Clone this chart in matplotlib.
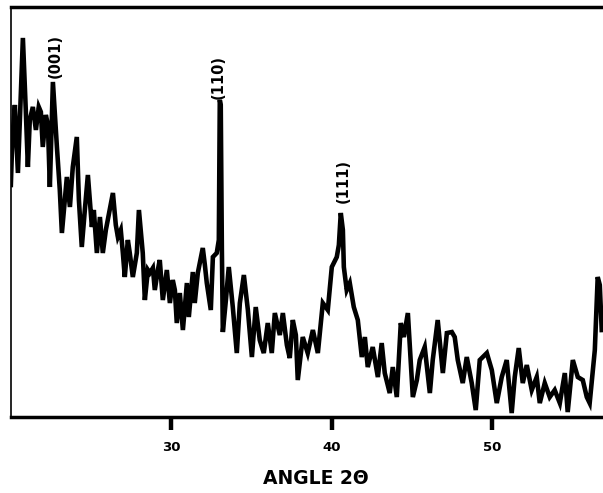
import matplotlib.pyplot as plt

# XRD pattern, values (intensity in arbitrary units)
two_theta = [
    20.00, 20.06, 20.12, 20.25, 20.44, 20.56, 20.75, 20.93, 21.06, 21.18, 21.37,
    21.56, 21.74, 21.87, 21.99, 22.18, 22.31, 22.43, 22.62, 22.87, 23.05,
    23.18, 23.36, 23.49, 23.68, 23.86, 24.11, 24.24, 24.42, 24.61, 24.80,
    25.05, 25.17, 25.36, 25.55, 25.73, 25.92, 26.04, 26.36, 26.54, 26.67,
    26.85, 26.98, 27.10, 27.29, 27.41, 27.60, 27.85, 27.98, 28.22, 28.35,
    28.54, 28.66, 28.85, 28.97, 29.16, 29.28, 29.47, 29.72, 29.91, 30.09,
    30.22, 30.34, 30.53, 30.72, 30.97, 31.09, 31.34, 31.46, 31.65, 31.96,
    32.09, 32.21, 32.46, 32.59, 32.83, 32.96, 33.02, 33.08, 33.15, 33.21,
    33.40, 33.58, 33.83, 34.08, 34.27, 34.52, 34.77, 35.02, 35.26, 35.51,
    35.76, 36.01, 36.26, 36.45, 36.76, 36.95, 37.20, 37.38, 37.57, 37.76,
    37.88, 38.19, 38.50, 38.82, 39.13, 39.44, 39.75, 40.00, 40.31, 40.44,
    40.56, 40.69, 40.75, 40.93, 41.12, 41.37, 41.62, 41.87, 42.06, 42.24,
    42.55, 42.87, 43.11, 43.30, 43.61, 43.80, 44.05, 44.30, 44.49, 44.74,
    45.05, 45.30, 45.48, 45.79, 46.11, 46.29, 46.60, 46.92, 47.17, 47.48,
    47.66, 47.85, 48.16, 48.41, 48.72, 48.97, 49.22, 49.66, 49.97, 50.28,
    50.59, 50.90, 51.21, 51.40, 51.65, 51.90, 52.15, 52.46, 52.77, 52.96,
    53.27, 53.58, 53.89, 54.21, 54.52, 54.70, 55.02, 55.33, 55.64, 55.89,
    56.07, 56.39, 56.57, 56.70, 56.82,
]
intensity = [
    232, 262, 284, 312, 244, 297, 379, 307, 250, 297, 310,
    287, 310, 305, 270, 302, 292, 230, 335, 270, 227,
    184, 217, 240, 210, 250, 280, 217, 170, 207, 242,
    190, 207, 164, 200, 164, 187, 197, 224, 192, 180,
    187, 164, 140, 177, 164, 140, 164, 207, 164, 117,
    147, 144, 149, 127, 147, 157, 117, 147, 114, 137,
    127, 94, 124, 87, 134, 100, 145, 114, 144, 169,
    152, 134, 107, 160, 164, 177, 317, 312, 167, 85,
    117, 150, 110, 64, 114, 142, 107, 60, 110, 77,
    64, 94, 64, 104, 82, 104, 72, 59, 97, 82,
    37, 80, 64, 87, 64, 114, 107, 150, 160, 172,
    204, 187, 150, 127, 134, 110, 97, 60, 80, 50,
    70, 40, 74, 44, 24, 50, 20, 94, 80, 104,
    20, 37, 57, 70, 24, 57, 97, 44, 84, 85,
    80, 57, 34, 60, 34, 7, 57, 64, 47, 14,
    40, 57, 4, 40, 69, 34, 52, 27, 40, 14,
    34, 20, 27, 14, 44, 5, 57, 40, 37, 20,
    14, 67, 140, 132, 87,
]

peak_labels = ['(001)', '(110)', '(111)']
peak_pos = [22.75, 32.95, 40.7]
peak_height = [361, 340, 236]

fig = plt.figure(figsize=(6.03, 4.93), dpi=100)
ax = fig.add_axes([0.018, 0.154, 0.982, 0.832])

ax.plot(two_theta, intensity, color='black', linewidth=3.3, solid_joinstyle='miter')

for lab, x, y in zip(peak_labels, peak_pos, peak_height):
    ax.text(x, y, lab, rotation=90, ha='center', va='center',
            fontsize=10.5, fontweight='bold')

ax.set_xlim(20, 56.9)
ax.set_ylim(0, 410)
ax.set_xticks([30, 40, 50])
ax.set_xticklabels(['30', '40', '50'], fontweight='bold', fontsize=9.5)
ax.set_yticks([])
ax.tick_params(axis='x', length=9.5, width=3.2, pad=8)

ax.spines['right'].set_visible(False)
ax.spines['top'].set_linewidth(2.5)
ax.spines['bottom'].set_linewidth(2.5)
ax.spines['left'].set_linewidth(1.2)

fig.text(0.524, 0.030, 'ANGLE 2\u0398', ha='center', va='center',
         fontsize=13.5, fontweight='bold')

plt.savefig('out.png', dpi=100)
